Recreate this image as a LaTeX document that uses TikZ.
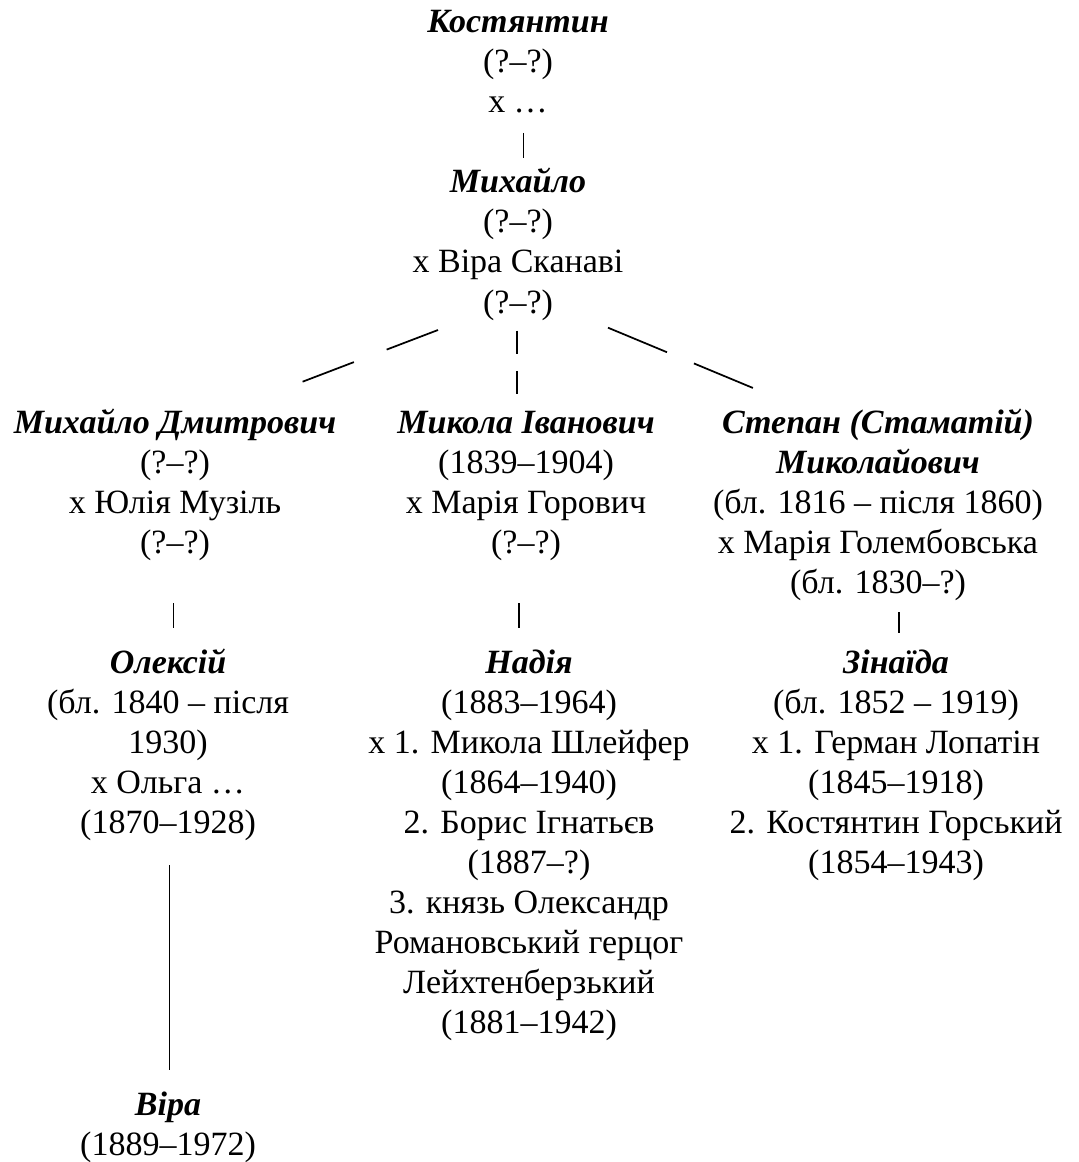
\documentclass[tikz,border=0pt]{standalone}
\usepackage{fontspec}
\setmainfont{Liberation Serif}
\newfontfamily\tnr{Liberation Serif}
\begin{document}
\begin{tikzpicture}[x=0.75pt,y=-0.75pt,
  person/.style={align=center,anchor=base,inner sep=0pt,
    font=\tnr\fontsize{25.5pt}{30pt}\selectfont},
  link/.style={line width=1.2pt,black},
  dlink/.style={line width=1.3pt,black}]
\useasboundingbox (0,0) rectangle (1078,1162);
% people (anchored at the baseline of their last line)
\node[person] (kost) at (518,113) {\textbf{\textit{Костянтин}}\\(?–?)\\х …};
\node[person] (myk) at (518,313) {\textbf{\textit{Михайло}}\\(?–?)\\х Віра Сканаві\\(?–?)};
\node[person] (mdm) at (175,553) {\textbf{\textit{Михайло Дмитрович}}\\(?–?)\\х Юлія Музіль\\(?–?)};
\node[person] (mi) at (526,553) {\textbf{\textit{Микола Іванович}}\\(1839–1904)\\х Марія Горович\\(?–?)};
\node[person] (st) at (878,593) {\textbf{\textit{Степан (Стаматій)}}\\\textbf{\textit{Миколайович}}\\(бл. 1816 – після 1860)\\х Марія Голембовська\\(бл. 1830–?)};
\node[person] (ol) at (168,833) {\textbf{\textit{Олексій}}\\(бл. 1840 – після\\1930)\\х Ольга …\\(1870–1928)};
\node[person] (nad) at (529,1033) {\textbf{\textit{Надія}}\\(1883–1964)\\х 1. Микола Шлейфер\\(1864–1940)\\2. Борис Ігнатьєв\\(1887–?)\\3. князь Олександр\\Романовський герцог\\Лейхтенберзький\\(1881–1942)};
\node[person] (zin) at (896,873) {\textbf{\textit{Зінаїда}}\\(бл. 1852 – 1919)\\х 1. Герман Лопатін\\(1845–1918)\\2. Костянтин Горський\\(1854–1943)};
\node[person] (vira) at (168,1155) {\textbf{\textit{Віра}}\\(1889–1972)};
% connector end points
\coordinate (k1) at (523.3,133);  \coordinate (k2) at (523.3,158);
\coordinate (m1) at (438,330);  \coordinate (m2) at (302.6,381.7);
\coordinate (m3) at (516.7,330.7); \coordinate (m4) at (516.7,394);
\coordinate (m5) at (608,327.7); \coordinate (m6) at (753,388);
\coordinate (a1) at (173.3,603);  \coordinate (a2) at (173.3,628);
\coordinate (b1) at (519,603);  \coordinate (b2) at (519,628);
\coordinate (c1) at (899,612);  \coordinate (c2) at (899,633);
\coordinate (v1) at (169.3,865); \coordinate (v2) at (169.3,1070);
% connectors
\draw[link] (k1) -- (k2);
\draw[dlink,dash pattern=on 41.2pt off 26.3pt] (m1) -- (m2);
\draw[dlink,dash pattern=on 17.3pt off 12.8pt] (m3) -- (m4);
\draw[dlink,dash pattern=on 47.9pt off 21.9pt] (m5) -- (m6);
\draw[link] (a1) -- (a2);
\draw[link] (b1) -- (b2);
\draw[link] (c1) -- (c2);
\draw[link] (v1) -- (v2);
\end{tikzpicture}
\end{document}
